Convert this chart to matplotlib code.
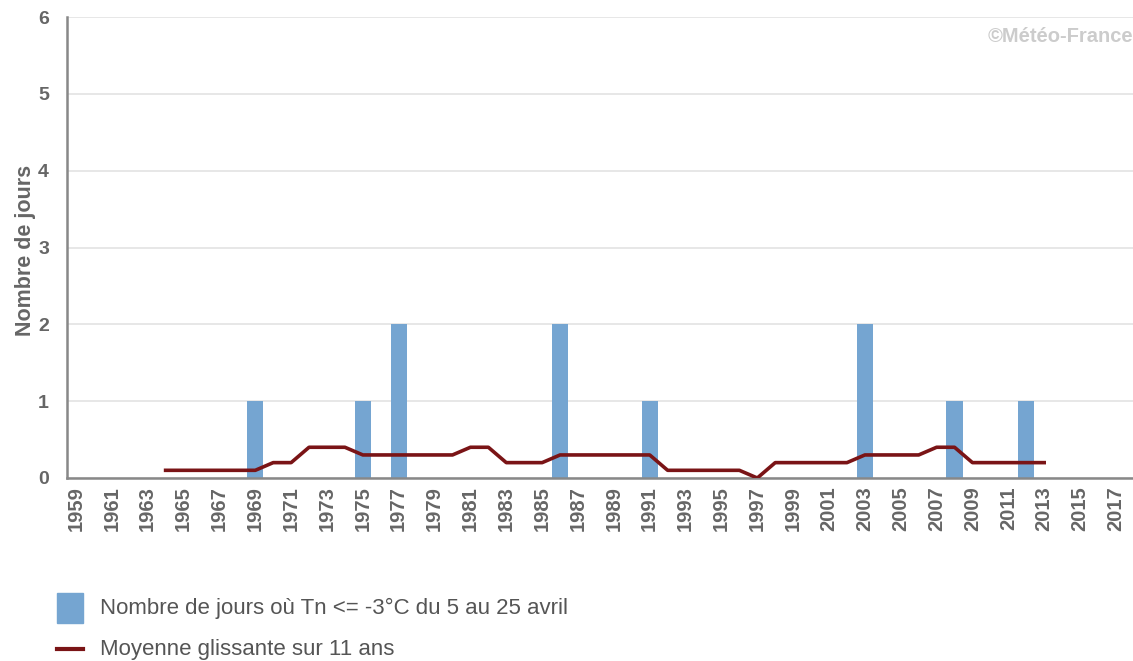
import matplotlib.pyplot as plt
from matplotlib.patches import Rectangle
from matplotlib.lines import Line2D

plt.rcParams['font.family'] = ['Liberation Sans', 'DejaVu Sans']

years = list(range(1959, 2019))
# frost days (Tn <= -3 C) from 5 to 25 April, only non-zero years listed
frost_years = [1969, 1975, 1977, 1986, 1991, 2003, 2008, 2012]
frost_days = [1, 1, 2, 2, 1, 2, 1, 1]

# 11-year moving average, 1964 -> 2013
ma_years = list(range(1964, 2014))
ma_values = [0.1, 0.1, 0.1, 0.1, 0.1, 0.1, 0.2, 0.2, 0.4, 0.4,
             0.4, 0.3, 0.3, 0.3, 0.3, 0.3, 0.3, 0.4, 0.4, 0.2,
             0.2, 0.2, 0.3, 0.3, 0.3, 0.3, 0.3, 0.3, 0.1, 0.1,
             0.1, 0.1, 0.1, 0.0, 0.2, 0.2, 0.2, 0.2, 0.2, 0.3,
             0.3, 0.3, 0.3, 0.4, 0.4, 0.2, 0.2, 0.2, 0.2, 0.2]

bar_label = 'Nombre de jours où Tn <= -3°C du 5 au 25 avril'
line_label = 'Moyenne glissante sur 11 ans'

BAR_COLOR = '#75a5d1'
LINE_COLOR = '#7a1416'
TXT = '#666666'

fig = plt.figure(figsize=(11.33, 6.61), dpi=100)
ax = fig.add_axes([67 / 1133, 183 / 661, 1 - 67 / 1133, 461 / 661])

pos = {y: i for i, y in enumerate(years)}
ax.bar([pos[y] for y in frost_years], frost_days, width=0.9, color=BAR_COLOR, zorder=2)
ax.plot([pos[y] for y in ma_years], ma_values, color=LINE_COLOR, lw=2.6, zorder=3)

ax.set_xlim(-0.5, -0.5 + 1066 / 17.93)
ax.set_ylim(0, 6)
ax.set_yticks(range(0, 7))
ax.yaxis.grid(True, color='#e3e3e3', lw=1.2, zorder=0)
ax.set_axisbelow(True)

ticks = [pos[y] for y in years[::2]]
ax.set_xticks(ticks)
ax.set_xticklabels([str(y) for y in years[::2]], rotation=90, fontsize=14.5,
                   fontweight='bold', color=TXT)
for lab in ax.get_yticklabels():
    lab.set_fontsize(14)
    lab.set_fontweight('bold')
    lab.set_color(TXT)
ax.tick_params(axis='both', length=0)
ax.tick_params(axis='x', pad=6)
ax.tick_params(axis='y', pad=13)

for side in ['top', 'right']:
    ax.spines[side].set_visible(False)
for side in ['left', 'bottom']:
    ax.spines[side].set_color('#888888')
    ax.spines[side].set_linewidth(1.8)

fig.text(26 / 1133, 1 - 250 / 661, 'Nombre de jours', rotation=90, ha='center', va='center',
         fontsize=15.5, fontweight='bold', color=TXT)

fig.text(1133 / 1133, 1 - 36 / 661, '©Météo-France', ha='right', va='center',
         fontsize=14.5, fontweight='bold', color='#cccccc')

# legend
fig.add_artist(Rectangle((57 / 1133, 1 - 623 / 661), 26 / 1133, 30 / 661,
                         transform=fig.transFigure, color=BAR_COLOR))
fig.add_artist(Line2D([57 / 1133, 83 / 1133], [1 - 649 / 661, 1 - 649 / 661],
                      transform=fig.transFigure, color=LINE_COLOR, lw=3))
fig.text(100 / 1133, 1 - 608 / 661, bar_label, ha='left', va='center', fontsize=16, color='#555555')
fig.text(100 / 1133, 1 - 649 / 661, line_label, ha='left', va='center', fontsize=16, color='#555555')

fig.savefig('out.png', dpi=100)
